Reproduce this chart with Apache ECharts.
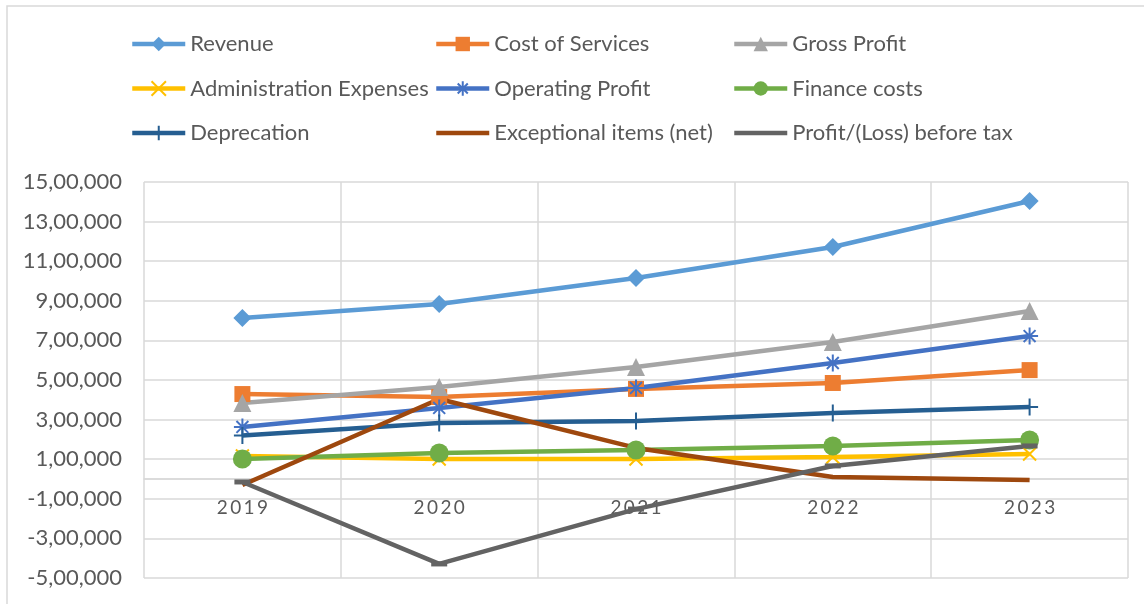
<!DOCTYPE html>
<html>
<head>
<meta charset="utf-8">
<script src="https://cdn.jsdelivr.net/npm/echarts@6/dist/echarts.min.js"></script>
<style>
  html, body { margin: 0; padding: 0; background: #fff; }
  #chart { width: 1144px; height: 604px; }
</style>
</head>
<body>
<div id="chart"></div>
<script>
var years = ['2019', '2020', '2021', '2022', '2023'];

var revenue = [813000, 884000, 1015000, 1172000, 1404000];
var costOfServices = [429000, 414000, 455000, 485000, 550000];
var grossProfit = [384000, 465000, 566000, 692000, 848000];
var adminExpenses = [116000, 101000, 101000, 111000, 126000];
var operatingProfit = [263000, 359000, 460000, 586000, 722000];
var financeCosts = [101000, 131000, 146000, 167000, 197000];
var depreciation = [220000, 283000, 293000, 333000, 364000];
var exceptionalItems = [-30000, 404000, 157000, 10000, -5000];
var profitBeforeTax = [-15000, -429000, -152000, 66000, 167000];

var yTicks = { min: -500000, max: 1500000, step: 200000 };

// Indian digit grouping: 15,00,000
function indianFormat(v) {
    var neg = v < 0;
    var s = Math.abs(Math.round(v)).toString();
    var last3 = s.slice(-3);
    var rest = s.slice(0, -3);
    if (rest) {
        rest = rest.replace(/\B(?=(\d{2})+(?!\d))/g, ',');
        s = rest + ',' + last3;
    } else {
        s = last3;
    }
    return (neg ? '-' : '') + s;
}

var FONT = 'Lato';
var TEXT_COLOR = '#595959';
var GRID_COLOR = '#d9d9d9';

var SYM_X = 'path://M0,0L10,10M10,0L0,10';
var SYM_STAR = 'path://M5,0L5,10M0,5L10,5M1.5,1.5L8.5,8.5M8.5,1.5L1.5,8.5';
var SYM_PLUS = 'path://M5,0L5,10M0,5L10,5';
var LEGEND_BAR = 'path://M0,0L53,0L53,4.5L0,4.5Z';

function makeSeries(name, data, color, symbol, size, stroke) {
    var s = {
        name: name,
        type: 'line',
        data: data,
        symbol: symbol,
        symbolSize: size,
        showSymbol: symbol !== 'none',
        lineStyle: { color: color, width: 4.5 },
        itemStyle: { color: color },
        emphasis: { disabled: true }
    };
    if (stroke) {
        s.itemStyle = { color: color, borderColor: color, borderWidth: 2 };
    }
    return s;
}

var chart = echarts.init(document.getElementById('chart'));

var legendBase = {
    orient: 'vertical',
    padding: 0,
    itemWidth: 53,
    itemHeight: 18,
    itemGap: 22.5,
    lineStyle: { width: 4.5 },
    textStyle: { fontFamily: FONT, fontSize: 22, color: TEXT_COLOR },
    selectedMode: false
};

var series = [
    makeSeries('Revenue', revenue, '#5B9BD5', 'diamond', 18),
    makeSeries('Cost of Services', costOfServices, '#ED7D31', 'rect', 16),
    makeSeries('Gross Profit', grossProfit, '#A5A5A5', 'triangle', 18),
    makeSeries('Administration Expenses', adminExpenses, '#FFC000', SYM_X, 13, true),
    makeSeries('Operating Profit', operatingProfit, '#4472C4', SYM_STAR, 17, true),
    makeSeries('Finance costs', financeCosts, '#70AD47', 'circle', 19),
    makeSeries('Deprecation', depreciation, '#255E91', SYM_PLUS, 17, true),
    makeSeries('Exceptional items (net)', exceptionalItems, '#9E480E', 'none', 0),
    makeSeries('Profit/(Loss) before tax', profitBeforeTax, '#636363', 'rect', [16, 5])
];
// zero line of the category axis
series[0].markLine = {
    silent: true,
    symbol: 'none',
    label: { show: false },
    lineStyle: { color: GRID_COLOR, width: 1.5, type: 'solid' },
    data: [{ yAxis: 0 }],
    z: 1
};

var option = {
    animation: false,
    backgroundColor: '#fff',
    graphic: [{
        type: 'rect',
        shape: { x: 7, y: 6, width: 1160, height: 620 },
        style: { fill: 'none', stroke: GRID_COLOR, lineWidth: 1.5 },
        silent: true
    }],
    legend: [
        Object.assign({}, legendBase, { left: 130, top: 33, data: ['Revenue', 'Administration Expenses', 'Deprecation'] }),
        Object.assign({}, legendBase, { left: 434, top: 33, data: ['Cost of Services', 'Operating Profit', { name: 'Exceptional items (net)', icon: LEGEND_BAR, itemStyle: { color: '#9E480E' } }] }),
        Object.assign({}, legendBase, { left: 732, top: 33, data: ['Gross Profit', 'Finance costs', { name: 'Profit/(Loss) before tax', icon: LEGEND_BAR, itemStyle: { color: '#636363' } }] })
    ],
    grid: { left: 144, right: 16, top: 182, bottom: 26, outerBoundsMode: 'none' },
    xAxis: {
        type: 'category',
        data: years,
        boundaryGap: true,
        axisLine: { onZero: true, lineStyle: { color: GRID_COLOR, width: 1.5 } },
        axisTick: { show: false },
        splitLine: { show: true, lineStyle: { color: GRID_COLOR, width: 1.5 } },
        axisLabel: {
            fontFamily: FONT, fontSize: 19, color: TEXT_COLOR, margin: -80,
            formatter: function (v) { return v.split('').join('\u2009'); }
        }
    },
    yAxis: {
        type: 'value',
        min: yTicks.min,
        max: yTicks.max,
        interval: yTicks.step,
        axisLine: { show: false },
        axisTick: { show: false },
        splitLine: { lineStyle: { color: GRID_COLOR, width: 1.5 } },
        axisLabel: {
            fontFamily: FONT, fontSize: 22, color: TEXT_COLOR, margin: 22,
            formatter: indianFormat
        }
    },
    series: series
};

chart.setOption(option);
</script>
</body>
</html>
